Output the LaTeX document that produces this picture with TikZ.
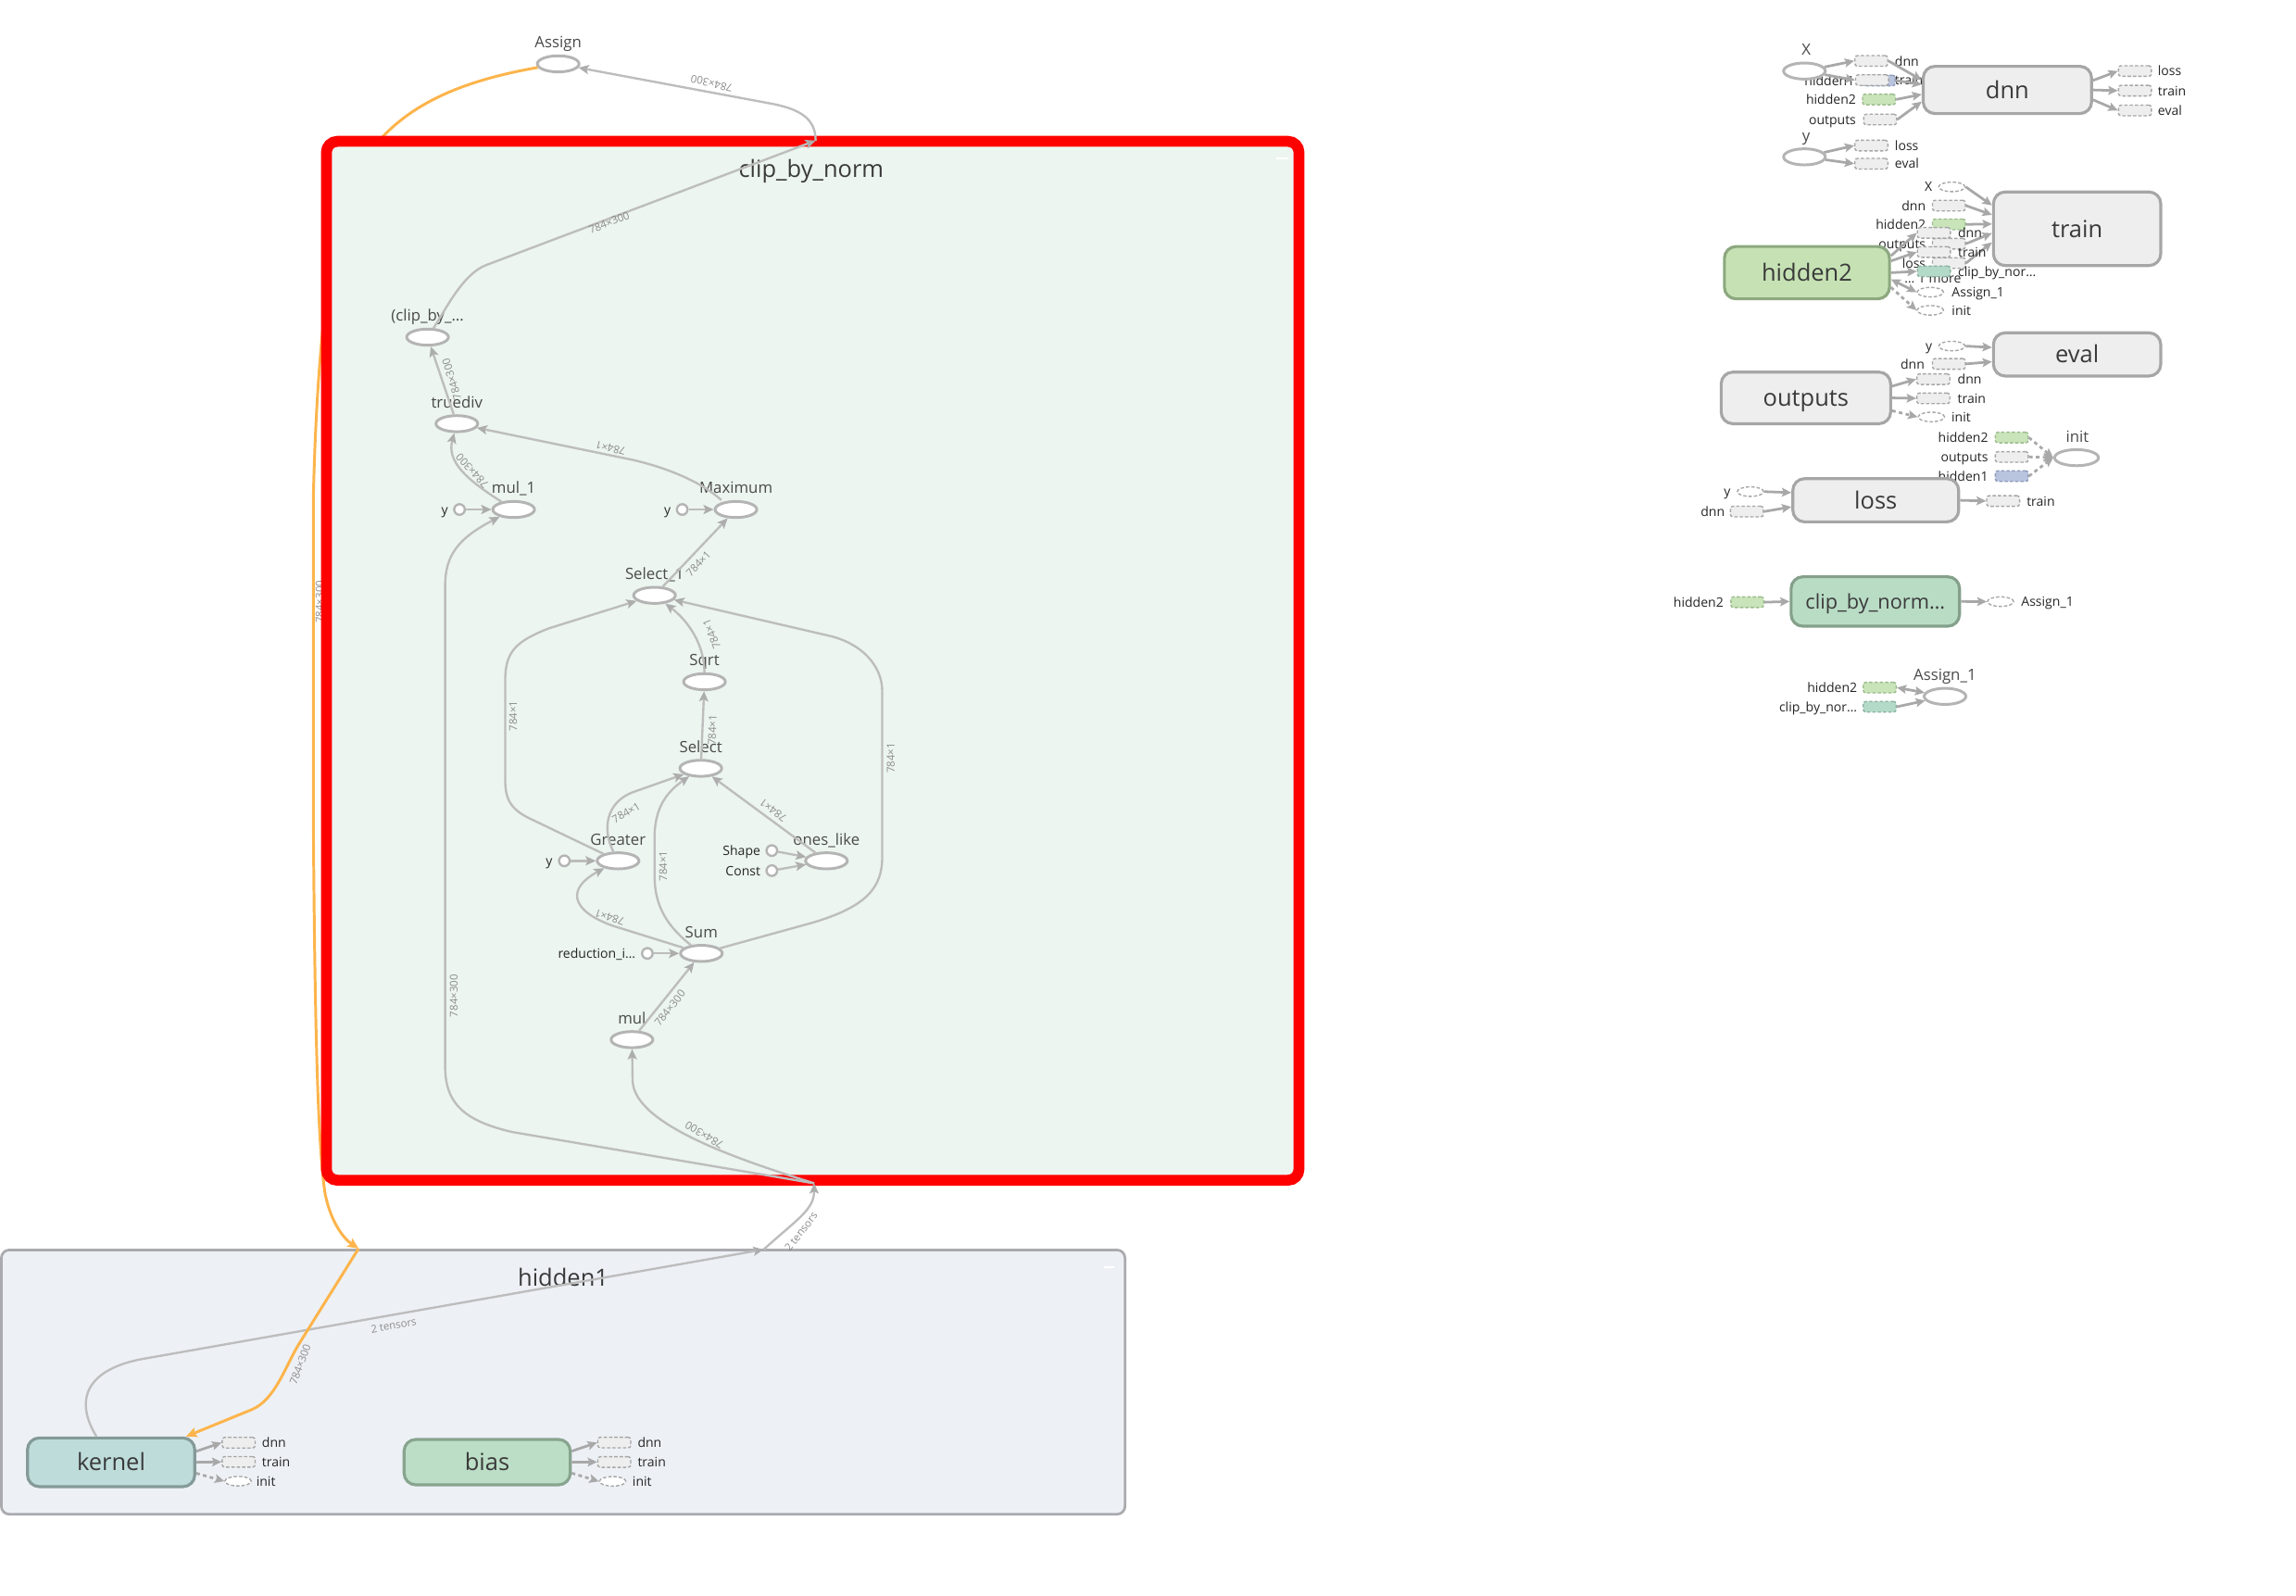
\documentclass[tikz,border=0pt]{standalone}
\usepackage{fontspec}
\setmainfont{Open Sans}
\usetikzlibrary{shapes.geometric,arrows.meta}
\definecolor{opline}{HTML}{B4B4B4}
\definecolor{edgec}{HTML}{BDBDBD}
\definecolor{tipc}{HTML}{ADADAD}
\definecolor{orangec}{HTML}{FDB44B}
\definecolor{redc}{HTML}{FF0000}
\definecolor{frfill}{HTML}{ECF5F0}
\definecolor{hfill}{HTML}{EDF1F6}
\definecolor{hline}{HTML}{AAAAAF}
\definecolor{oplblc}{HTML}{4A4A4A}
\definecolor{smlc}{HTML}{262626}
\definecolor{bigc}{HTML}{3A3A3A}
\definecolor{elblc}{HTML}{8C8C8C}
\definecolor{grayfill}{HTML}{EEEEEE}
\definecolor{grayline}{HTML}{A6A6A6}
\definecolor{kfill}{HTML}{BEDCDA}
\definecolor{kline}{HTML}{849A98}
\definecolor{bfill}{HTML}{BCDEC6}
\definecolor{bline}{HTML}{88A48E}
\definecolor{h2fill}{HTML}{C6E2B4}
\definecolor{h2line}{HTML}{8DA87F}
\definecolor{cfill}{HTML}{B9DCC5}
\definecolor{cline}{HTML}{84A08B}
\definecolor{annedge}{HTML}{A8A8A8}
\definecolor{grnfill}{HTML}{C8E4B8}
\definecolor{grnline}{HTML}{9DBB8F}
\definecolor{blufill}{HTML}{B8C4DE}
\definecolor{bluline}{HTML}{8E9BBB}
\definecolor{tealfill}{HTML}{B3D9C8}
\definecolor{tealline}{HTML}{8DB3A2}
\begin{document}
\begin{tikzpicture}[x=0.4pt,y=-0.4pt,
  op/.style={ellipse,draw=opline,fill=white,line width=0.75pt,minimum width=11.4pt,minimum height=4.4pt,inner sep=0pt},
  cst/.style={circle,draw=opline,fill=white,line width=0.6pt,minimum size=2.9pt,inner sep=0pt},
  oplbl/.style={font=\fontsize{4.25pt}{5pt}\selectfont,text=oplblc,inner sep=0pt,anchor=base},
  sml/.style={font=\fontsize{3.55pt}{4.2pt}\selectfont,text=smlc,inner sep=0pt},
  smle/.style={sml,anchor=base east},
  smlw/.style={sml,anchor=base west},
  ttl/.style={font=\fontsize{6.45pt}{7.5pt}\selectfont,text=bigc,inner sep=0pt,anchor=base},
  elbl/.style={font=\fontsize{2.9pt}{3.4pt}\selectfont,text=elblc,inner sep=0pt},
  cedge/.style={draw=edgec,line width=0.6pt,-{Stealth[length=2.8pt,width=2.5pt,inset=0.6pt,color=tipc]}},
  oedge/.style={draw=orangec,line width=0.75pt,-{Stealth[length=3pt,width=2.7pt,inset=0.6pt,color=orangec]}},
  grpbox/.style={rectangle,rounded corners=3.2pt,line width=0.8pt,inner sep=0pt,font=\fontsize{6.45pt}{7.5pt}\selectfont,text=bigc,text height=4.6pt,text depth=0pt},
  arect/.style={rectangle,rounded corners=0.7pt,line width=0.35pt,dash pattern=on 0.9pt off 0.55pt,minimum width=9pt,minimum height=2.9pt,inner sep=0pt},
  grect/.style={arect,draw=grayline,fill=grayfill},
  gnrect/.style={arect,draw=grnline,fill=grnfill},
  blrect/.style={arect,draw=bluline,fill=blufill},
  tlrect/.style={arect,draw=tealline,fill=tealfill},
  dell/.style={ellipse,draw=grayline,fill=white,line width=0.35pt,dash pattern=on 0.9pt off 0.55pt,minimum width=7.2pt,minimum height=2.6pt,inner sep=0pt},
  aedge/.style={draw=annedge,line width=0.7pt,-{Stealth[length=2.6pt,width=2.4pt,inset=0.5pt,color=annedge]}},
  aedgeb/.style={draw=annedge,line width=0.7pt,{Stealth[length=2.6pt,width=2.4pt,inset=0.5pt,color=annedge]}-{Stealth[length=2.6pt,width=2.4pt,inset=0.5pt,color=annedge]}},
  dedge/.style={aedge,dash pattern=on 1pt off 0.9pt},
]
\useasboundingbox (0,0) rectangle (1568,1089.2);
\fill[white] (0,0) rectangle (1568,1089.2);

% ---------------- hidden1 group ----------------
\draw[draw=hline,fill=hfill,line width=0.68pt,rounded corners=2.2pt] (0.9,853.5) rectangle (768.3,1034);
\node[ttl] (h1title) at (384.6,878.1) {hidden1};
\draw[white,line width=0.5pt] (753.7,865) -- (761,865);

% ---------------- Assign and orange reference edge ----------------
\node[op] (asg) at (381.2,43.6) {};
\node[oplbl] (asgL) at (381.2,32.8) {Assign};
\coordinate (otop) at (244.9,852.5);
\draw[oedge] (asg) .. controls (305,57) and (262,78) .. (240,125) .. controls (224,160) and (216,250) .. (214,340) -- (214,560) .. controls (215,700) and (217,782) .. (222,815) .. controls (226,835) and (235,846) .. (otop);
\node[elbl,rotate=90] (oL1) at (218.2,411) {784×300};

% ---------------- clip_by_norm frame ----------------
\draw[draw=redc,fill=frfill,line width=2.96pt,rounded corners=3pt] (222.9,96.5) rectangle (887.1,805.9);
\draw[white,line width=0.5pt] (871.6,108.2) -- (879.8,108.2);
\node[ttl] (cbnT) at (554,121.2) {clip\_by\_norm};
\coordinate (ctop) at (557,96);
\coordinate (cbot) at (556,808);
\coordinate (htop) at (521.5,853.2);

% nodes inside
\node[op] (cb) at (292,230.2) {};
\node[oplbl] (cbL) at (292,219.4) {(clip\_by\_…};
\node[op] (td) at (312,289.3) {};
\node[oplbl] (tdL) at (312,278.5) {truediv};
\node[op] (m1) at (350.8,347.9) {};
\node[oplbl] (m1L) at (350.8,337.1) {mul\_1};
\node[cst] (y1) at (313.8,347.9) {};
\node[smle] (y1L) at (306.5,351.3) {y};
\node[op] (mx) at (502.6,347.9) {};
\node[oplbl] (mxL) at (502.6,337.1) {Maximum};
\node[cst] (y2) at (465.9,347.9) {};
\node[smle] (y2L) at (458.5,351.3) {y};
\node[op] (s1) at (447,406.5) {};
\node[oplbl] (s1L) at (447,395.7) {Select\_1};
\node[op] (sq) at (481.1,465.5) {};
\node[oplbl] (sqL) at (481.1,454.7) {Sqrt};
\node[op] (se) at (478.6,524.6) {};
\node[oplbl] (seL) at (478.6,513.8) {Select};
\node[op] (gr) at (422.1,587.8) {};
\node[oplbl] (grL) at (422.1,577) {Greater};
\node[cst] (y3) at (385.4,587.8) {};
\node[smle] (y3L) at (377.8,591.2) {y};
\node[op] (ol) at (564.4,587.8) {};
\node[oplbl] (olL) at (564.4,577) {ones\_like};
\node[cst] (shp) at (527.1,580.8) {};
\node[smle] (shpL) at (519.8,584.2) {Shape};
\node[cst] (cn) at (527.1,594.5) {};
\node[smle] (cnL) at (519.8,597.9) {Const};
\node[op] (sm) at (479,651) {};
\node[oplbl] (smL) at (479,640.2) {Sum};
\node[cst] (rd) at (442.1,651) {};
\node[smle] (rdL) at (434.5,654.4) {reduction\_i…};
\node[op] (mu) at (431.6,709.9) {};
\node[oplbl] (muL) at (431.6,699.1) {mul};

% edges inside
\draw[cedge] (cb) .. controls (304,212) and (316,187) .. (332,181) -- (ctop);
\draw[cedge] (ctop) .. controls (557,82) and (548,75) .. (528,71) -- (asg);
\draw[cedge] (td) -- (cb);
\draw[cedge] (m1) .. controls (318,327) and (305,315) .. (td);
\draw[cedge] ([xshift=-4pt]mx.north) .. controls (480,330) and (458,320) .. (432,314) -- (td);
\draw[cedge] (y1) -- (m1);
\draw[cedge] (y2) -- (mx);
\draw[cedge] (s1) -- (mx);
\draw[cedge] (sq) .. controls (481,440) and (470,424) .. (s1);
\draw[cedge] (se) -- (sq);
\draw[cedge] (gr) -- (362,559) .. controls (348,552.3) and (345,545) .. (345,532) -- (345,465) .. controls (345,445) and (352,438) .. (375,429) -- (s1);
\draw[cedge] (sm) -- (555,630) .. controls (592,619) and (602.5,606) .. (602.5,585) -- (602.5,472) .. controls (602.5,455) and (589,439.7) .. (567,434.3) -- (s1);
\draw[cedge] (gr) .. controls (411,566) and (414,548) .. (432,541) -- (se);
\draw[cedge] (sm) .. controls (455,632) and (447,618) .. (447,598) -- (447,572) .. controls (447,552) and (455,541) .. (se);
\draw[cedge] (ol) -- (se);
\draw[cedge] (shp) -- (ol);
\draw[cedge] (cn) -- (ol);
\draw[cedge] (y3) -- (gr);
\draw[cedge] (sm) -- (418,632) .. controls (388,621) and (388,606) .. (gr);
\draw[cedge] (rd) -- (sm);
\draw[cedge] (mu) -- (sm);
\draw[cedge] (cbot) .. controls (505,792) and (433,768) .. (432,738) -- (mu);
\draw[cedge] (cbot) -- (350,773) .. controls (315,765) and (304,752) .. (304,728) -- (304,400) .. controls (304,380) and (312,368) .. (m1);

% edge labels inside
\node[elbl,rotate=166] (eA) at (486,57) {784×300};
\node[elbl,rotate=21] (eB) at (416,152) {784×300};
\node[elbl,rotate=107] (eC) at (308.5,259) {784×300};
\node[elbl,rotate=132] (eD) at (322.5,321.5) {784×300};
\node[elbl,rotate=166] (eE) at (417,306) {784×1};
\node[elbl,rotate=47] (eF) at (477,385) {784×1};
\node[elbl,rotate=112] (eG) at (486,433) {784×1};
\node[elbl,rotate=88] (eH) at (486.5,498.6) {784×1};
\node[elbl,rotate=90] (eI) at (350.5,489) {784×1};
\node[elbl,rotate=90] (eJ) at (608.3,517.6) {784×1};
\node[elbl,rotate=30] (eK) at (427.6,555) {784×1};
\node[elbl,rotate=90] (eL) at (452.9,591.4) {784×1};
\node[elbl,rotate=143] (eM) at (528,553.4) {784×1};
\node[elbl,rotate=162] (eN) at (416.4,626.2) {784×1};
\node[elbl,rotate=52] (eO) at (457.5,688.4) {784×300};
\node[elbl,rotate=149] (eP) at (481,775) {784×300};
\node[elbl,rotate=90] (eQ) at (310,680) {784×300};

% ---------------- hidden1 contents ----------------
\node[grpbox,draw=kline,fill=kfill,minimum width=45.7pt,minimum height=13.3pt] (kern) at (75.9,998.5) {kernel};
\node[grpbox,draw=bline,fill=bfill,minimum width=45.4pt,minimum height=12.4pt] (bias) at (332.7,998.4) {bias};
\node[grect] (k1) at (163,985.1) {};
\node[grect] (k2) at (163,998.2) {};
\node[dell] (k3) at (162.6,1011.4) {};
\node[smlw] (k1L) at (178.5,988.4) {dnn};
\node[smlw] (k2L) at (178.5,1001.5) {train};
\node[smlw] (k3L) at (174.6,1014.7) {init};
\draw[aedge] ([yshift=3pt]kern.east) -- (k1.west);
\draw[aedge] (kern.east) -- (k2.west);
\draw[dedge] ([yshift=-3pt]kern.east) -- (k3.west);
\node[grect] (b1) at (419.5,985) {};
\node[grect] (b2) at (419.5,998.3) {};
\node[dell] (b3) at (418.4,1011.5) {};
\node[smlw] (b1L) at (435,988.3) {dnn};
\node[smlw] (b2L) at (435,1001.6) {train};
\node[smlw] (b3L) at (431.5,1014.8) {init};
\draw[aedge] ([yshift=3pt]bias.east) -- (b1.west);
\draw[aedge] (bias.east) -- (b2.west);
\draw[dedge] ([yshift=-3pt]bias.east) -- (b3.west);

\draw[cedge] ([xshift=-4pt]kern.north) .. controls (50,955) and (60,935) .. (97,928) -- (htop);
\node[elbl,rotate=10] (tL1) at (268.8,905) {2 tensors};
\draw[cedge] (htop) .. controls (545,832) and (556,826) .. (cbot);
\node[elbl,rotate=52] (tL2) at (547,841) {2 tensors};
\draw[oedge] (otop) -- (204,918) .. controls (195,932.6) and (188,955.8) .. (172,962.5) -- ([xshift=-2.8pt]kern.north east);
\node[elbl,rotate=70] (oL2) at (205,931.7) {784×300};

% ---------------- right panel: dnn ----------------
\node[grpbox,draw=grayline,fill=grayfill,minimum width=46pt,minimum height=12.9pt] (dnn) at (1370.9,61.4) {dnn};
\node[smle] (dh1L) at (1267,58.3) {hidden1};
\node[blrect] (dh1) at (1283,55) {};
\node[smle] (dh2L) at (1268,71.2) {hidden2};
\node[gnrect] (dh2) at (1283.2,67.9) {};
\node[smle] (douL) at (1268,84.9) {outputs};
\node[grect] (dou) at (1284,81.6) {};
\node[op] (xe) at (1232.3,48.5) {};
\node[oplbl] (xeL) at (1233.5,37.7) {X};
\node[grect] (xd) at (1278,41.6) {};
\node[smlw] (xdL) at (1293.6,44.9) {dnn};
\node[grect] (xt) at (1278.5,54.7) {};
\node[smlw] (xtL) at (1293.6,58) {train};
\draw[aedge] (xe) -- (xd.west);
\draw[aedge] (xe) -- (xt.west);
\draw[aedge] (xd.east) -- ([yshift=2.7pt]dnn.west);
\draw[aedge] (dh1.east) -- ([yshift=1.5pt]dnn.west);
\draw[aedge] (dh2.east) -- ([yshift=-1.2pt]dnn.west);
\draw[aedge] (dou.east) -- ([yshift=-3.2pt]dnn.west);
\node[grect] (dl) at (1458,48.5) {};
\node[smlw] (dlL) at (1473.2,51.8) {loss};
\node[grect] (dt) at (1458,61.9) {};
\node[smlw] (dtL) at (1473.2,65.2) {train};
\node[grect] (de) at (1458,75.4) {};
\node[smlw] (deL) at (1473.2,78.7) {eval};
\draw[aedge] ([yshift=2.6pt]dnn.east) -- (dl.west);
\draw[aedge] (dnn.east) -- (dt.west);
\draw[aedge] ([yshift=-2.7pt]dnn.east) -- (de.west);

% y
\node[op] (ye) at (1232.3,107.1) {};
\node[oplbl] (yeL) at (1233.5,96.3) {y};
\node[grect] (yl) at (1278,99.4) {};
\node[smlw] (ylL) at (1293.6,102.7) {loss};
\node[grect] (yv) at (1278,111.8) {};
\node[smlw] (yvL) at (1293.6,115.1) {eval};
\draw[aedge] (ye) -- (yl.west);
\draw[aedge] (ye) -- (yv.west);

% train
\node[grpbox,draw=grayline,fill=grayfill,minimum width=45.7pt,minimum height=20.1pt] (tr) at (1418.5,156.2) {train};
\node[dell] (tx) at (1333,127.6) {};
\node[smle] (txL) at (1320,130.9) {X};
\node[grect] (td2) at (1331,140.4) {};
\node[smle] (td2L) at (1315.6,143.7) {dnn};
\node[gnrect] (th2) at (1331,153.2) {};
\node[smle] (th2L) at (1315.6,156.5) {hidden2};
\node[grect] (tou) at (1331,166.4) {};
\node[smle] (touL) at (1315.6,169.7) {outputs};
\node[grect] (tl) at (1331,179.6) {};
\node[smle] (tlL) at (1315.6,182.9) {loss};
\draw[aedge] (tx.east) -- ([yshift=6.4pt]tr.west);
\draw[aedge] (td2.east) -- ([yshift=3.8pt]tr.west);
\draw[aedge] (th2.east) -- ([yshift=1.3pt]tr.west);
\draw[aedge] (tou.east) -- ([yshift=-1.2pt]tr.west);
\draw[aedge] (tl.east) -- ([yshift=-3.7pt]tr.west);

% hidden2
\node[grpbox,draw=h2line,fill=h2fill,minimum width=45.1pt,minimum height=14.3pt] (h2) at (1234,186.2) {hidden2};
\node[grect] (hd) at (1320.7,159) {};
\node[smlw] (hdL) at (1336.7,162.3) {dnn};
\node[grect] (ht) at (1320.7,172.1) {};
\node[smlw] (htL) at (1336.7,175.4) {train};
\node[sml,anchor=base] (hmL) at (1320,193.4) {… 1 more};
\node[tlrect] (hc) at (1320.7,185.3) {};
\node[smlw] (hcL) at (1336.7,188.6) {clip\_by\_nor…};
\node[dell] (ha) at (1318.3,199.5) {};
\node[smlw] (haL) at (1332.5,202.8) {Assign\_1};
\node[dell] (hi) at (1318.3,211.9) {};
\node[smlw] (hiL) at (1332.5,215.2) {init};
\draw[aedge] ([yshift=4.6pt]h2.east) -- (hd.west);
\draw[aedge] ([yshift=3.2pt]h2.east) -- (ht.west);
\draw[aedge] (h2.east) -- (hc.west);
\draw[aedgeb] ([yshift=-1.8pt]h2.east) -- (ha.west);
\draw[dedge] ([yshift=-4pt]h2.east) -- (hi.west);

% eval
\node[grpbox,draw=grayline,fill=grayfill,minimum width=45.7pt,minimum height=11.8pt] (ev) at (1418.5,242) {eval};
\node[dell] (ey) at (1333,236.3) {};
\node[smle] (eyL) at (1320,239.6) {y};
\node[grect] (ed) at (1331,248.5) {};
\node[smle] (edL) at (1314.8,251.8) {dnn};
\draw[aedge] (ey.east) -- ([yshift=1.9pt]ev.west);
\draw[aedge] (ed.east) -- ([yshift=-2pt]ev.west);

% outputs
\node[grpbox,draw=grayline,fill=grayfill,minimum width=46.3pt,minimum height=14.1pt] (ou) at (1233.3,271.7) {outputs};
\node[grect] (od) at (1320.3,258.9) {};
\node[smlw] (odL) at (1336.4,262.2) {dnn};
\node[grect] (ot) at (1320.3,272) {};
\node[smlw] (otL) at (1336.4,275.3) {train};
\node[dell] (oi) at (1319,284.7) {};
\node[smlw] (oiL) at (1332.3,288) {init};
\draw[aedge] ([yshift=3.2pt]ou.east) -- (od.west);
\draw[aedge] (ou.east) -- (ot.west);
\draw[dedge] ([yshift=-3.5pt]ou.east) -- (oi.west);

% init
\node[op,minimum width=12pt] (ini) at (1418.1,312.5) {};
\node[oplbl] (iniL) at (1418.7,301.7) {init};
\node[gnrect] (ih2) at (1373.9,298.8) {};
\node[smle] (ih2L) at (1358.2,302.1) {hidden2};
\node[grect] (io) at (1373.9,312) {};
\node[smle] (ioL) at (1358.2,315.3) {outputs};
\node[blrect] (ih1) at (1373.9,325.1) {};
\node[smle] (ih1L) at (1358.2,328.4) {hidden1};
\draw[dedge] (ih2.east) -- (ini.west);
\draw[dedge] (io.east) -- (ini.west);
\draw[dedge] (ih1.east) -- (ini.west);

% loss
\node[grpbox,draw=grayline,fill=grayfill,minimum width=45.3pt,minimum height=11.8pt] (lo) at (1281,341.6) {loss};
\node[dell] (ly) at (1195.4,335.7) {};
\node[smle] (lyL) at (1182.3,339) {y};
\node[grect] (ld) at (1193,349.3) {};
\node[smle] (ldL) at (1178.3,352.6) {dnn};
\draw[aedge] (ly.east) -- ([yshift=2.1pt]lo.west);
\draw[aedge] (ld.east) -- ([yshift=-1.8pt]lo.west);
\node[grect] (lt) at (1368,342.1) {};
\node[smlw] (ltL) at (1383.6,345.4) {train};
\draw[aedge] (lo.east) -- (lt.west);

% clip_by_norm...
\node[grpbox,draw=cline,fill=cfill,minimum width=46pt,minimum height=13.5pt,font=\fontsize{5.5pt}{6.5pt}\selectfont,text height=3.93pt] (cl) at (1280.7,410.7) {clip\_by\_norm…};
\node[gnrect] (ch2) at (1193.3,411.2) {};
\node[smle] (ch2L) at (1177.5,414.5) {hidden2};
\draw[aedge] (ch2.east) -- (cl.west);
\node[dell] (ca) at (1366.2,410.8) {};
\node[smlw] (caL) at (1379.9,414.1) {Assign\_1};
\draw[aedge] (cl.east) -- (ca.west);

% Assign_1
\node[op] (a1) at (1328.3,475.5) {};
\node[oplbl] (a1L) at (1328.2,464.7) {Assign\_1};
\node[gnrect] (ah2) at (1283.7,469.5) {};
\node[smle] (ah2L) at (1268.8,472.8) {hidden2};
\node[tlrect] (ac) at (1283.7,482.6) {};
\node[smle] (acL) at (1268.8,485.9) {clip\_by\_nor…};
\draw[aedgeb] (ah2.east) -- (a1);
\draw[aedge] (ac.east) -- (a1);
\end{tikzpicture}
\end{document}
